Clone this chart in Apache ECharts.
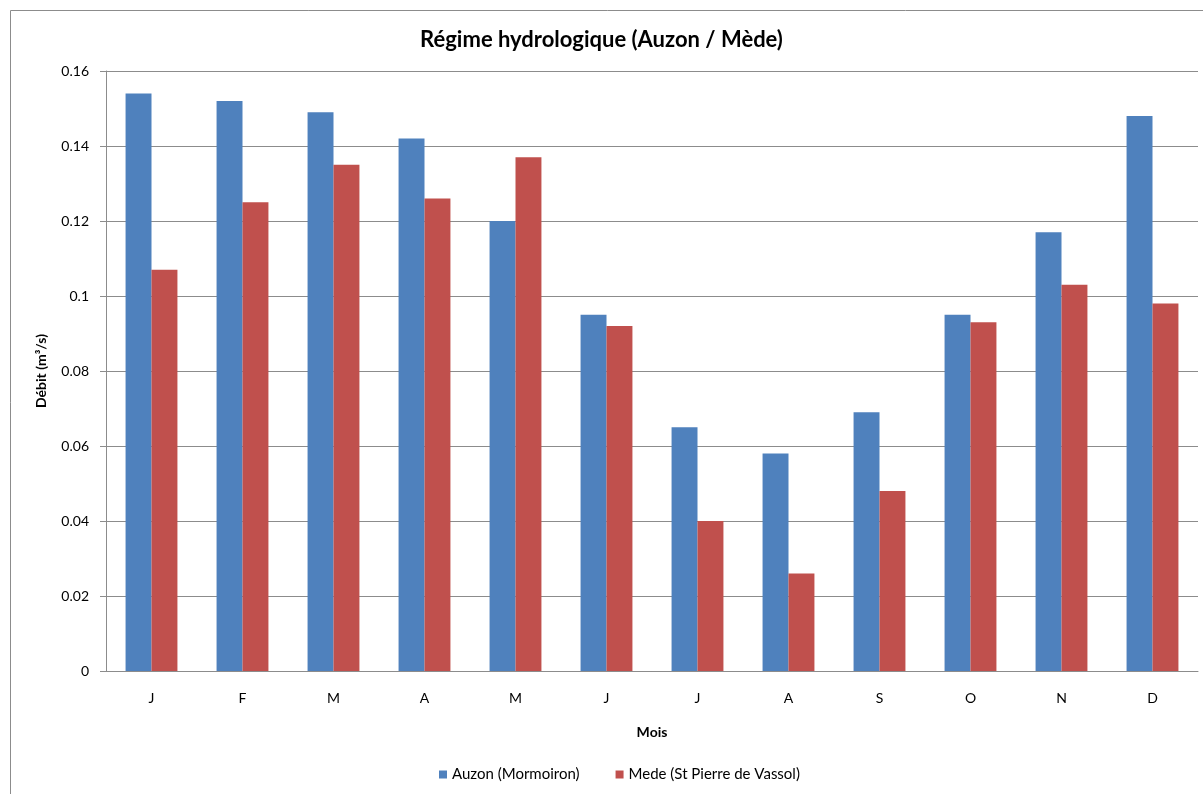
<!DOCTYPE html>
<html><head><meta charset="utf-8">
<script src="https://cdn.jsdelivr.net/npm/echarts@6/dist/echarts.min.js"></script>
<style>html,body{margin:0;padding:0;background:#fff}#c{width:1203px;height:794px}</style>
</head><body><div id="c"></div>
<script>
const months = ['J','F','M','A','M','J','J','A','S','O','N','D'];
const auzon = [0.154,0.152,0.149,0.142,0.120,0.095,0.065,0.058,0.069,0.095,0.117,0.148];
const mede  = [0.107,0.125,0.135,0.126,0.137,0.092,0.040,0.026,0.048,0.093,0.103,0.098];
const yTicks = [0,0.02,0.04,0.06,0.08,0.1,0.12,0.14,0.16];
const font = 'Lato, "Open Sans", sans-serif';
const chart = echarts.init(document.getElementById('c'));
chart.setOption({
  animation:false,
  textStyle:{fontFamily:font},
  graphic:[{type:'rect',shape:{x:10.5,y:10.5,width:1300,height:1000},style:{fill:'none',stroke:'#8c8c8c',lineWidth:1},z:-1}],
  title:{text:'Régime hydrologique (Auzon / Mède)',left:'center',top:24,
    textStyle:{fontFamily:font,fontWeight:'bold',fontSize:22,color:'#000'}},
  legend:{bottom:7,left:434,itemWidth:8,itemHeight:8,itemGap:36,icon:'rect',
    textStyle:{fontFamily:font,fontSize:15,color:'#000'}},
  grid:{left:106,right:5,top:71,bottom:123,containLabel:false},
  xAxis:{type:'category',data:months,name:'Mois',nameLocation:'middle',nameGap:54,
    nameTextStyle:{fontFamily:font,fontWeight:'bold',fontSize:14,color:'#000'},
    axisLine:{lineStyle:{color:'#8c8c8c'}},axisTick:{show:false},
    axisLabel:{fontSize:14,color:'#000',margin:20,fontFamily:font}},
  yAxis:{type:'value',min:0,max:0.16,interval:0.02,name:'Débit (m³/s)',nameLocation:'middle',nameGap:58,
    nameTextStyle:{fontFamily:font,fontWeight:'bold',fontSize:14,color:'#000'},
    axisLine:{show:true,lineStyle:{color:'#8c8c8c'}},axisTick:{show:true,length:6,lineStyle:{color:'#8c8c8c'}},
    splitLine:{lineStyle:{color:'#8c8c8c'}},
    axisLabel:{fontSize:14,color:'#000',margin:17,fontFamily:font,
      formatter:v=>{const t=yTicks.find(x=>Math.abs(x-v)<1e-9);return String(t!==undefined?t:v);}}},
  series:[
    {name:'Auzon (Mormoiron)',type:'bar',data:auzon,itemStyle:{color:'#4f81bd'},barGap:'0%',barCategoryGap:'43%'},
    {name:'Mede (St Pierre de Vassol)',type:'bar',data:mede,itemStyle:{color:'#c0504d'}}
  ]
});
</script></body></html>
